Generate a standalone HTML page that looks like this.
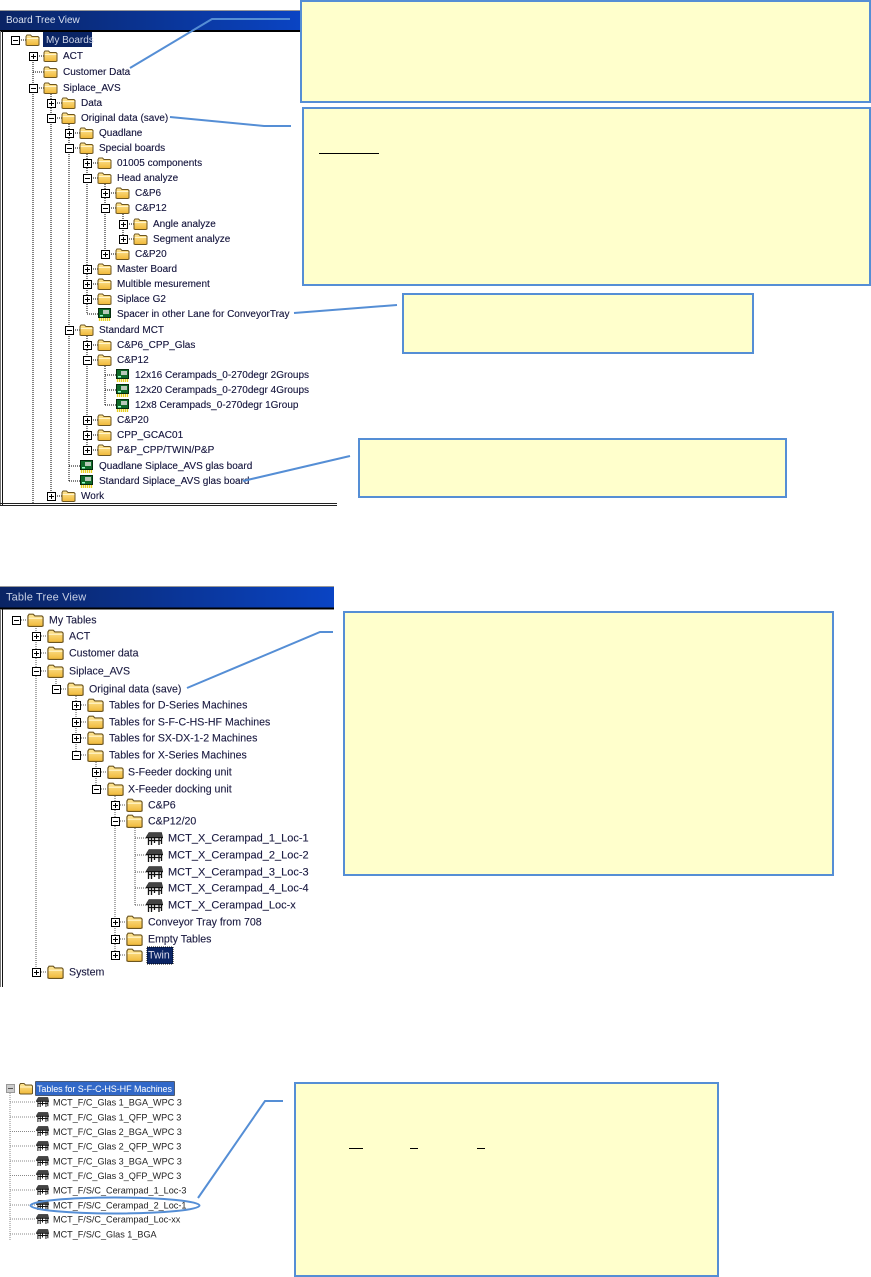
<!DOCTYPE html>
<html><head><meta charset="utf-8"><style>
html,body{margin:0;padding:0;background:#fff}
svg{display:block}
text{font-family:"Liberation Sans",sans-serif;dominant-baseline:central;transform:translateY(.7px)}
.a text{font-size:10px;fill:#14143c;stroke:#14143c;stroke-width:.12px}
.b text{font-size:10.6px;fill:#1a1a40;stroke:#1a1a40;stroke-width:.12px}
.b text.w{font-size:11px}
.c text{font-size:9.1px;fill:#222}
.dots{fill:none;stroke:#000;stroke-width:1;stroke-dasharray:1 1}
.call{fill:#ffc;stroke:#558ed5;stroke-width:2}
.conn{fill:none;stroke:#558ed5;stroke-width:2}
</style></head><body>
<svg width="871" height="1277" viewBox="0 0 871 1277" xmlns="http://www.w3.org/2000/svg">
<defs>
<linearGradient id="tb" x1="0" x2="1" y1="0" y2="0"><stop offset="0" stop-color="#0a2464"/><stop offset="1" stop-color="#0a44c4"/></linearGradient>
<linearGradient id="fg" x1="0" x2="0" y1="0" y2="1"><stop offset="0" stop-color="#ffe89a"/><stop offset="1" stop-color="#f0b838"/></linearGradient>
<symbol id="f" viewBox="0 0 14 12" overflow="visible"><path d="M.5 2.500 L1.500 1 H5 L6.500 2.500 H12.500 L13.500 3.500 V11 L12.500 11.500 H1.500 L.5 11Z" fill="url(#fg)" stroke="#6d5620" stroke-width="1"/><path d="M1 4.500 H13" stroke="#fff4c8" stroke-width="1"/></symbol>
<symbol id="p" viewBox="0 0 9 9"><rect x=".5" y=".5" width="8" height="8" fill="#fff" stroke="#000"/><path d="M2 4.500H7M4.500 2V7" stroke="#000"/></symbol>
<symbol id="m" viewBox="0 0 9 9"><rect x=".5" y=".5" width="8" height="8" fill="#fff" stroke="#000"/><path d="M2 4.500H7" stroke="#000"/></symbol>
<symbol id="bd" viewBox="0 0 13 13"><rect x=".5" y=".5" width="12" height="9" fill="#0f6a28" stroke="#032a0c"/><rect x="5" y="2" width="6" height="4" fill="#b8c8b8"/><rect x="2" y="7" width="3" height="1.500" fill="#9fc"/><path d="M1.500 10V13M3.500 10V13M5.500 10V13M7.500 10V13M9.500 10V13M11.500 10V13" stroke="#e8d020" stroke-width="1.300"/></symbol>
<symbol id="tt" viewBox="0 0 17 13"><path d="M3 0.500H15.500L16.500 4.500H.5Z" fill="#444" stroke="#222" stroke-width=".6"/><path d="M0 5.500H17" stroke="#111" stroke-width="1.400"/><path d="M2.500 5V13M5.500 5V13M8.500 5V11M13 5V13M15.500 5V12M2 8.500H15.500" stroke="#111" stroke-width="1.300" fill="none"/></symbol>
</defs>

<!-- Tree 1 frame -->
<rect x="0" y="10" width="301" height="21" fill="url(#tb)"/>
<path d="M0 10.500H301" stroke="#999"/>
<path d="M0 31H301" stroke="#000" stroke-width="2"/>
<path d="M.5 31V506" stroke="#777"/><path d="M2.500 31V506" stroke="#111"/>
<path d="M0 503.500H337M0 505.500H337" stroke="#222" stroke-width="1"/>
<text x="6" y="20" font-size="10" fill="#d8e0f0" style="font-size:10px">Board Tree View</text>
<path class="dots" d="M33 60V503M51 92V496M69 122V481M87 152V314M87 334V450M105 182V254M123 212V239M105 364V405
M19 40H26M37 56H44M33 72H44M37 88H44M55 103H62M55 118H62M73 133H80M73 148H80M91 163H98M91 178H98M109 193H116M109 208H116M127 224H134M127 239H134M109 254H116M91 269H98M91 284H98M91 299H98M87 314H98M73 330H80M91 345H98M91 360H98M105 375H116M105 390H116M105 405H116M91 420H98M91 435H98M91 450H98M69 466H80M69 481H80M55 496H62"/>
<rect x="43" y="32" width="49" height="15" fill="#0a2464"/>
<g class="a">
<use href="#m" x="11" y="36" width="9" height="9"/><use href="#f" x="25" y="34" width="15" height="12"/><text x="46" y="40" style="fill:#cfd6ea;stroke:none">My Boards</text>
<use href="#p" x="29" y="52" width="9" height="9"/><use href="#f" x="43" y="50" width="15" height="12"/><text x="63" y="56">ACT</text>
<use href="#f" x="43" y="66" width="15" height="12"/><text x="63" y="72">Customer Data</text>
<use href="#m" x="29" y="84" width="9" height="9"/><use href="#f" x="43" y="82" width="15" height="12"/><text x="63" y="88">Siplace_AVS</text>
<use href="#p" x="47" y="99" width="9" height="9"/><use href="#f" x="61" y="97" width="15" height="12"/><text x="81" y="103">Data</text>
<use href="#m" x="47" y="114" width="9" height="9"/><use href="#f" x="61" y="112" width="15" height="12"/><text x="81" y="118">Original data (save)</text>
<use href="#p" x="65" y="129" width="9" height="9"/><use href="#f" x="79" y="127" width="15" height="12"/><text x="99" y="133">Quadlane</text>
<use href="#m" x="65" y="144" width="9" height="9"/><use href="#f" x="79" y="142" width="15" height="12"/><text x="99" y="148">Special boards</text>
<use href="#p" x="83" y="159" width="9" height="9"/><use href="#f" x="97" y="157" width="15" height="12"/><text x="117" y="163">01005 components</text>
<use href="#m" x="83" y="174" width="9" height="9"/><use href="#f" x="97" y="172" width="15" height="12"/><text x="117" y="178">Head analyze</text>
<use href="#p" x="101" y="189" width="9" height="9"/><use href="#f" x="115" y="187" width="15" height="12"/><text x="135" y="193">C&amp;P6</text>
<use href="#m" x="101" y="204" width="9" height="9"/><use href="#f" x="115" y="202" width="15" height="12"/><text x="135" y="208">C&amp;P12</text>
<use href="#p" x="119" y="220" width="9" height="9"/><use href="#f" x="133" y="218" width="15" height="12"/><text x="153" y="224">Angle analyze</text>
<use href="#p" x="119" y="235" width="9" height="9"/><use href="#f" x="133" y="233" width="15" height="12"/><text x="153" y="239">Segment analyze</text>
<use href="#p" x="101" y="250" width="9" height="9"/><use href="#f" x="115" y="248" width="15" height="12"/><text x="135" y="254">C&amp;P20</text>
<use href="#p" x="83" y="265" width="9" height="9"/><use href="#f" x="97" y="263" width="15" height="12"/><text x="117" y="269">Master Board</text>
<use href="#p" x="83" y="280" width="9" height="9"/><use href="#f" x="97" y="278" width="15" height="12"/><text x="117" y="284">Multible mesurement</text>
<use href="#p" x="83" y="295" width="9" height="9"/><use href="#f" x="97" y="293" width="15" height="12"/><text x="117" y="299">Siplace G2</text>
<use href="#bd" x="98" y="308" width="13" height="13"/><text x="117" y="314">Spacer in other Lane for ConveyorTray</text>
<use href="#m" x="65" y="326" width="9" height="9"/><use href="#f" x="79" y="324" width="15" height="12"/><text x="99" y="330">Standard MCT</text>
<use href="#p" x="83" y="341" width="9" height="9"/><use href="#f" x="97" y="339" width="15" height="12"/><text x="117" y="345">C&amp;P6_CPP_Glas</text>
<use href="#m" x="83" y="356" width="9" height="9"/><use href="#f" x="97" y="354" width="15" height="12"/><text x="117" y="360">C&amp;P12</text>
<use href="#bd" x="116" y="369" width="13" height="13"/><text x="135" y="375">12x16 Cerampads_0-270degr 2Groups</text>
<use href="#bd" x="116" y="384" width="13" height="13"/><text x="135" y="390">12x20 Cerampads_0-270degr 4Groups</text>
<use href="#bd" x="116" y="399" width="13" height="13"/><text x="135" y="405">12x8 Cerampads_0-270degr 1Group</text>
<use href="#p" x="83" y="416" width="9" height="9"/><use href="#f" x="97" y="414" width="15" height="12"/><text x="117" y="420">C&amp;P20</text>
<use href="#p" x="83" y="431" width="9" height="9"/><use href="#f" x="97" y="429" width="15" height="12"/><text x="117" y="435">CPP_GCAC01</text>
<use href="#p" x="83" y="446" width="9" height="9"/><use href="#f" x="97" y="444" width="15" height="12"/><text x="117" y="450">P&amp;P_CPP/TWIN/P&amp;P</text>
<use href="#bd" x="80" y="460" width="13" height="13"/><text x="99" y="466">Quadlane Siplace_AVS glas board</text>
<use href="#bd" x="80" y="475" width="13" height="13"/><text x="99" y="481">Standard Siplace_AVS glas board</text>
<use href="#p" x="47" y="492" width="9" height="9"/><use href="#f" x="61" y="490" width="15" height="12"/><text x="81" y="496">Work</text>
</g>

<!-- Tree 2 frame -->
<rect x="0" y="587" width="334" height="21" fill="url(#tb)"/>
<path d="M0 586.500H334" stroke="#999"/>
<path d="M0 608.500H334" stroke="#000" stroke-width="2"/>
<path d="M.5 609V987" stroke="#777"/><path d="M2.500 609V987" stroke="#111"/>
<text x="6" y="597" fill="#c8d0e4" letter-spacing=".15" style="font-size:11px">Table Tree View</text>
<path class="dots" style="stroke:#555" d="M36 626V968M56 677V689M76 694V755M96 760V789M115 794V955M135 826V905
M21 620H27M41 636H47M41 653H47M41 671H47M61 689H67M81 705H87M81 722H87M81 738H87M81 755H87M101 772H107M101 789H107M120 805H126M120 821H126M135 838H146M135 855H146M135 872H146M135 888H146M135 905H146M120 922H126M120 939H126M120 955H126M41 972H47"/>
<rect x="147" y="947" width="26" height="17" fill="#0a2464" stroke="#000" stroke-dasharray="1 1"/>
<g class="b">
<use href="#m" x="12" y="616" width="9" height="9"/><use href="#f" x="27" y="613" width="17" height="14"/><text x="49" y="620">My Tables</text>
<use href="#p" x="32" y="632" width="9" height="9"/><use href="#f" x="47" y="629" width="17" height="14"/><text x="69" y="636">ACT</text>
<use href="#p" x="32" y="649" width="9" height="9"/><use href="#f" x="47" y="646" width="17" height="14"/><text x="69" y="653">Customer data</text>
<use href="#m" x="32" y="667" width="9" height="9"/><use href="#f" x="47" y="664" width="17" height="14"/><text x="69" y="671">Siplace_AVS</text>
<use href="#m" x="52" y="685" width="9" height="9"/><use href="#f" x="67" y="682" width="17" height="14"/><text x="89" y="689">Original data (save)</text>
<use href="#p" x="72" y="701" width="9" height="9"/><use href="#f" x="87" y="698" width="17" height="14"/><text x="109" y="705">Tables for D-Series Machines</text>
<use href="#p" x="72" y="718" width="9" height="9"/><use href="#f" x="87" y="715" width="17" height="14"/><text x="109" y="722">Tables for S-F-C-HS-HF Machines</text>
<use href="#p" x="72" y="734" width="9" height="9"/><use href="#f" x="87" y="731" width="17" height="14"/><text x="109" y="738">Tables for SX-DX-1-2 Machines</text>
<use href="#m" x="72" y="751" width="9" height="9"/><use href="#f" x="87" y="748" width="17" height="14"/><text x="109" y="755">Tables for X-Series Machines</text>
<use href="#p" x="92" y="768" width="9" height="9"/><use href="#f" x="107" y="765" width="17" height="14"/><text x="128" y="772">S-Feeder docking unit</text>
<use href="#m" x="92" y="785" width="9" height="9"/><use href="#f" x="107" y="782" width="17" height="14"/><text x="128" y="789">X-Feeder docking unit</text>
<use href="#p" x="111" y="801" width="9" height="9"/><use href="#f" x="126" y="798" width="17" height="14"/><text x="148" y="805">C&amp;P6</text>
<use href="#m" x="111" y="817" width="9" height="9"/><use href="#f" x="126" y="814" width="17" height="14"/><text x="148" y="821">C&amp;P12/20</text>
<use href="#tt" x="146" y="832" width="17" height="13"/><text class="w" x="168" y="838">MCT_X_Cerampad_1_Loc-1</text>
<use href="#tt" x="146" y="849" width="17" height="13"/><text class="w" x="168" y="855">MCT_X_Cerampad_2_Loc-2</text>
<use href="#tt" x="146" y="866" width="17" height="13"/><text class="w" x="168" y="872">MCT_X_Cerampad_3_Loc-3</text>
<use href="#tt" x="146" y="882" width="17" height="13"/><text class="w" x="168" y="888">MCT_X_Cerampad_4_Loc-4</text>
<use href="#tt" x="146" y="899" width="17" height="13"/><text class="w" x="168" y="905">MCT_X_Cerampad_Loc-x</text>
<use href="#p" x="111" y="918" width="9" height="9"/><use href="#f" x="126" y="915" width="17" height="14"/><text x="148" y="922">Conveyor Tray from 708</text>
<use href="#p" x="111" y="935" width="9" height="9"/><use href="#f" x="126" y="932" width="17" height="14"/><text x="148" y="939">Empty Tables</text>
<use href="#p" x="111" y="951" width="9" height="9"/><use href="#f" x="126" y="948" width="17" height="14"/><text x="148" y="955" style="fill:#dde;stroke:none">Twin</text>
<use href="#p" x="32" y="968" width="9" height="9"/><use href="#f" x="47" y="965" width="17" height="14"/><text x="69" y="972">System</text>
</g>

<!-- Tree 3 -->
<path d="M10 1093V1240M10 1102H36M10 1117H36M10 1131.500H36M10 1146H36M10 1161H36M10 1175.500H36M10 1190H36M10 1205H36M10 1219H36M10 1234H36" fill="none" stroke="#888" stroke-dasharray="1 1"/>
<rect x="35.500" y="1081.500" width="139" height="14" fill="#3168c8" stroke="#000" stroke-dasharray="1 1"/>
<rect x="6.500" y="1084.500" width="8" height="8" fill="#ccc" stroke="#999"/><path d="M8 1088.500H13" stroke="#555"/>
<use href="#f" x="19" y="1082" width="14" height="13"/>
<text x="37" y="1088.500" fill="#fff" textLength="135" style="font-size:9px">Tables for S-F-C-HS-HF Machines</text>
<g class="c">
<use href="#tt" x="36" y="1097" width="13" height="10"/><text x="53" y="1102">MCT_F/C_Glas 1_BGA_WPC 3</text>
<use href="#tt" x="36" y="1112" width="13" height="10"/><text x="53" y="1117">MCT_F/C_Glas 1_QFP_WPC 3</text>
<use href="#tt" x="36" y="1126" width="13" height="10"/><text x="53" y="1131.500">MCT_F/C_Glas 2_BGA_WPC 3</text>
<use href="#tt" x="36" y="1141" width="13" height="10"/><text x="53" y="1146">MCT_F/C_Glas 2_QFP_WPC 3</text>
<use href="#tt" x="36" y="1156" width="13" height="10"/><text x="53" y="1161">MCT_F/C_Glas 3_BGA_WPC 3</text>
<use href="#tt" x="36" y="1170" width="13" height="10"/><text x="53" y="1175.500">MCT_F/C_Glas 3_QFP_WPC 3</text>
<use href="#tt" x="36" y="1185" width="13" height="10"/><text x="53" y="1190">MCT_F/S/C_Cerampad_1_Loc-3</text>
<use href="#tt" x="36" y="1200" width="13" height="10"/><text x="53" y="1205">MCT_F/S/C_Cerampad_2_Loc-1</text>
<use href="#tt" x="36" y="1214" width="13" height="10"/><text x="53" y="1219">MCT_F/S/C_Cerampad_Loc-xx</text>
<use href="#tt" x="36" y="1229" width="13" height="10"/><text x="53" y="1234">MCT_F/S/C_Glas 1_BGA</text>
</g>
<ellipse cx="115" cy="1205.500" rx="84.500" ry="8" fill="none" stroke="#558ed5" stroke-width="2"/>

<!-- Connectors -->
<path class="conn" d="M130 68L212 19H290"/>
<path class="conn" d="M170 117L264 126H291"/>
<path class="conn" d="M294 313L397 305"/>
<path class="conn" d="M243 481L350 456"/>
<path class="conn" d="M187 688L320 632H333"/>
<path class="conn" d="M198 1198L265 1101H283"/>

<!-- Callouts -->
<rect class="call" x="301" y="1" width="569" height="101"/>
<rect class="call" x="303" y="108" width="567" height="177"/>
<rect class="call" x="403" y="294" width="350" height="59"/>
<rect class="call" x="359" y="439" width="427" height="58"/>
<rect class="call" x="344" y="612" width="489" height="263"/>
<rect class="call" x="295" y="1083" width="423" height="193"/>
<path d="M319 153.500H379M349 1148.500H363M410 1148.500H418M477 1148.500H485" stroke="#000" stroke-width="1"/>
</svg>
</body></html>
